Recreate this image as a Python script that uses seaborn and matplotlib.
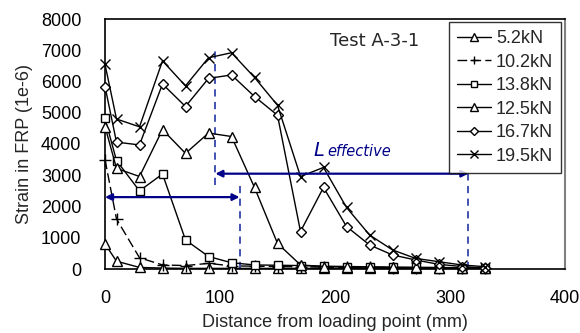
import matplotlib
matplotlib.use("Agg")
import matplotlib.pyplot as plt
import seaborn as sns
import numpy as np

# ---- data ----
distance = [0, 10, 30, 50, 70, 90, 110, 130, 150, 170, 190, 210, 230, 250, 270, 290, 310, 330]
load_labels = ["5.2kN", "10.2kN", "13.8kN", "12.5kN", "16.7kN", "19.5kN"]
s_5_2 = [800, 250, 50, 30, 20, 20, 20, 20, 20, 20, 20, 20, 20, 20, 20, 20, 20, 20]
s_10_2 = [3500, 1600, 360, 130, 110, 180, 100, 90, 80, 70, 60, 50, 50, 40, 40, 30, 30, 30]
s_13_8 = [4820, 3470, 2500, 3040, 930, 400, 200, 130, 120, 110, 90, 80, 70, 60, 50, 50, 40, 40]
s_12_5 = [4560, 3220, 2960, 4460, 3700, 4350, 4240, 2610, 820, 130, 80, 60, 60, 50, 50, 40, 40, 40]
s_16_7 = [5840, 4060, 3970, 5920, 5200, 6100, 6210, 5520, 4920, 1200, 2610, 1360, 770, 450, 290, 150, 80, 30]
s_19_5 = [6550, 4800, 4550, 6660, 5860, 6760, 6920, 6130, 5240, 2960, 3250, 1970, 1090, 610, 340, 235, 130, 75]
series = [s_5_2, s_10_2, s_13_8, s_12_5, s_16_7, s_19_5]

x_ticks = [0, 100, 200, 300, 400]
y_ticks = [0, 1000, 2000, 3000, 4000, 5000, 6000, 7000, 8000]

# annotation values (data coords)
arrow1 = (0, 117, 2300)
arrow2 = (96, 316, 3050)
vlines = [(96, 2700, 7070), (117, 0, 2700), (316, 0, 3150)]

sns.set_style("white")
plt.rcParams['font.family'] = ['Liberation Sans', 'DejaVu Sans']

fig = plt.figure(figsize=(5.8, 3.33), dpi=100)
ax = fig.add_axes([105/580, (333-269)/333, 460/580, 250/333])

styles = [
    dict(marker='^', markersize=7, linestyle='-'),
    dict(marker='+', markersize=8, linestyle=(0, (7, 3))),
    dict(marker='s', markersize=5.5, linestyle='-'),
    dict(marker='^', markersize=7, linestyle='-'),
    dict(marker='D', markersize=5, linestyle='-'),
    dict(marker='x', markersize=7, linestyle='-'),
]

for lab, vals, st in zip(load_labels, series, styles):
    sns.lineplot(x=distance, y=vals, ax=ax, color='black', linewidth=1.0,
                 marker=st['marker'], markersize=st['markersize'],
                 markerfacecolor='white', markeredgecolor='black',
                 markeredgewidth=1.0, linestyle=st['linestyle'],
                 label=lab, sort=False, clip_on=False, zorder=3)

ax.set_xlim(0, 400)
ax.set_ylim(0, 8000)
ax.set_xticks(x_ticks)
ax.set_yticks(y_ticks)
ax.tick_params(axis='both', direction='in', length=5, labelsize=13, colors='black')
ax.tick_params(axis='y', pad=17)
ax.tick_params(axis='x', pad=15, length=0)

for side in ['left', 'bottom', 'top']:
    ax.spines[side].set_color('black')
    ax.spines[side].set_linewidth(1.2)
ax.spines['right'].set_color('#808080')
ax.spines['right'].set_linewidth(1.5)

ax.set_xlabel("Distance from loading point (mm)", fontsize=13, labelpad=5)
ax.set_ylabel("Strain in FRP (1e-6)", fontsize=13, labelpad=6)

# annotations
navy = '#000088'
dblue = '#3344aa'
for xa, xb, yv in [arrow1, arrow2]:
    ax.annotate('', xy=(xb, yv), xytext=(xa, yv),
                arrowprops=dict(arrowstyle='<|-|>', color=navy, lw=1.6,
                                mutation_scale=10, shrinkA=0, shrinkB=0))
for xv, y0, y1 in vlines:
    ax.plot([xv, xv], [y0, y1], color=dblue, linestyle=(0, (4, 3)), linewidth=1.3, zorder=2)

ax.text(196, 7300, "Test A-3-1", fontsize=13, family='DejaVu Sans', va='center', ha='left')
ax.text(181, 3620, "L", fontsize=14, style='italic', color=navy, family='DejaVu Sans', va='baseline')
ax.text(193, 3620, "effective", fontsize=10.5, style='italic', color=navy, family='DejaVu Sans', va='baseline')

leg = ax.legend(loc='upper left', bbox_to_anchor=((449-105)/460, (269-22)/250),
                borderaxespad=0, frameon=True, fancybox=False, fontsize=13,
                handlelength=1.9, handletextpad=0.25, labelspacing=0.36,
                borderpad=0.45, markerscale=0.8)
leg.get_frame().set_edgecolor('black')
leg.get_frame().set_linewidth(1.0)

fig.savefig("out.png", dpi=100)
